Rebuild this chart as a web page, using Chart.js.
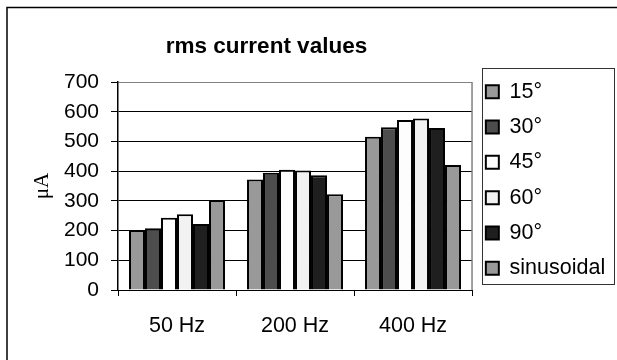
<!DOCTYPE html>
<html>
<head>
<meta charset="utf-8">
<title>rms current values</title>
<script src="https://cdn.jsdelivr.net/npm/chart.js@4/dist/chart.umd.min.js"></script>
<style>
    html, body { margin: 0; padding: 0; background: #fff; }
    #chart { display: block; }
</style>
</head>
<body>
<canvas id="chart" width="617" height="360"></canvas>
<script>
// Chart data
const categories = ['50 Hz', '200 Hz', '400 Hz'];
const seriesNames = ['15°', '30°', '45°', '60°', '90°', 'sinusoidal'];
const deg15 = [202, 372, 516];
const deg30 = [208, 395, 548];
const deg45 = [243, 405, 572];
const deg60 = [255, 402, 577];
const deg90 = [222, 386, 545];
const sinusoidal = [303, 322, 421];
const yMin = 0;
const yMax = 700;
const yStep = 100;

const seriesValues = [deg15, deg30, deg45, deg60, deg90, sinusoidal];
const seriesColors = ['#999999', '#4d4d4d', '#fdfdfd', '#f2f2f2', '#1f1f1f', '#999999'];

Chart.defaults.font.family = '"Liberation Sans", Arial, sans-serif';
Chart.defaults.color = '#000';

/**
 * Outer frame, plot-area border and legend border (Excel style)
 */
const framePlugin = {
    id: 'frame',
    beforeDraw(chart) {
        const ctx = chart.ctx;
        ctx.save();
        ctx.fillStyle = '#fff';
        ctx.fillRect(0, 0, chart.width, chart.height);
        ctx.strokeStyle = '#000';
        ctx.lineWidth = 1.5;
        ctx.beginPath();
        ctx.moveTo(7, chart.height);
        ctx.lineTo(7, 7.5);
        ctx.lineTo(chart.width, 7.5);
        ctx.stroke();
        ctx.restore();
    },
    afterLayout(chart) {
        // Excel centres the title a little left of the canvas middle
        const t = chart.titleBlock;
        if (t) {
            t.left = 0;
            t.right = 533;
            t.width = 533;
        }
    },
    beforeDatasetsDraw(chart) {
        const {ctx, chartArea} = chart;
        ctx.save();
        ctx.strokeStyle = '#808080';
        ctx.lineWidth = 1.5;
        ctx.beginPath();
        ctx.moveTo(chartArea.right, chartArea.top);
        ctx.lineTo(chartArea.right, chartArea.bottom);
        ctx.stroke();
        ctx.restore();
    },
    afterDraw(chart) {
        const hb = chart.legend && chart.legend.legendHitBoxes;
        if (!hb || !hb.length) return;
        const first = hb[0];
        const last = hb[hb.length - 1];
        const ctx = chart.ctx;
        ctx.save();
        ctx.strokeStyle = '#333';
        ctx.lineWidth = 1;
        const x0 = Math.round(chart.chartArea.right + 10) + 0.5;
        const y0 = Math.round(first.top - 13) + 0.5;
        const x1 = 614.5;
        const y1 = Math.round(last.top + last.height + 5) + 0.5;
        ctx.strokeRect(x0, y0, x1 - x0, y1 - y0);
        ctx.restore();
    }
};

const ctx = document.getElementById('chart');

new Chart(ctx, {
    type: 'bar',
    data: {
        labels: categories,
        datasets: seriesNames.map((name, i) => ({
            label: name,
            data: seriesValues[i],
            backgroundColor: seriesColors[i],
            borderColor: '#000',
            borderWidth: 2,
            categoryPercentage: 96 / 118, // keeps bar edges on whole pixels
            barPercentage: 1
        }))
    },
    options: {
        responsive: false,
        animation: false,
        devicePixelRatio: 1,
        layout: {
            padding: { left: 10, right: 1.8, top: 0, bottom: 0 }
        },
        plugins: {
            title: {
                display: true,
                text: 'rms current values',
                color: '#000',
                font: { size: 22.5, weight: 'bold' },
                padding: { top: 33.5, bottom: 21.5 }
            },
            legend: {
                position: 'right',
                labels: {
                    boxWidth: 13,
                    boxHeight: 13,
                    padding: 13.8,
                    color: '#000',
                    font: { size: 21.5 }
                }
            },
            tooltip: { enabled: false }
        },
        scales: {
            x: {
                grid: { drawOnChartArea: false, drawTicks: true, tickLength: 6, color: '#000' },
                border: { color: '#000', width: 1 },
                ticks: { padding: 17.5, font: { size: 21.5 }, color: '#000' },
                afterFit(scale) { scale.height = 70; }
            },
            y: {
                min: yMin,
                max: yMax,
                ticks: { stepSize: yStep, padding: 12, font: { size: 21 }, color: '#000' },
                grid: {
                    color: (c) => (c.tick && c.tick.value === yMax) ? '#808080' : '#000',
                    tickColor: '#000',
                    tickLength: 7,
                    lineWidth: 1
                },
                border: { color: '#000', width: 1.5 },
                title: {
                    display: true,
                    text: 'μA',
                    color: '#000',
                    font: { family: '"Liberation Serif", "Times New Roman", serif', size: 21 },
                    padding: { top: 20, bottom: 0 }
                },
                afterFit(scale) { scale.width = 108; }
            }
        }
    },
    plugins: [framePlugin]
});
</script>
</body>
</html>
